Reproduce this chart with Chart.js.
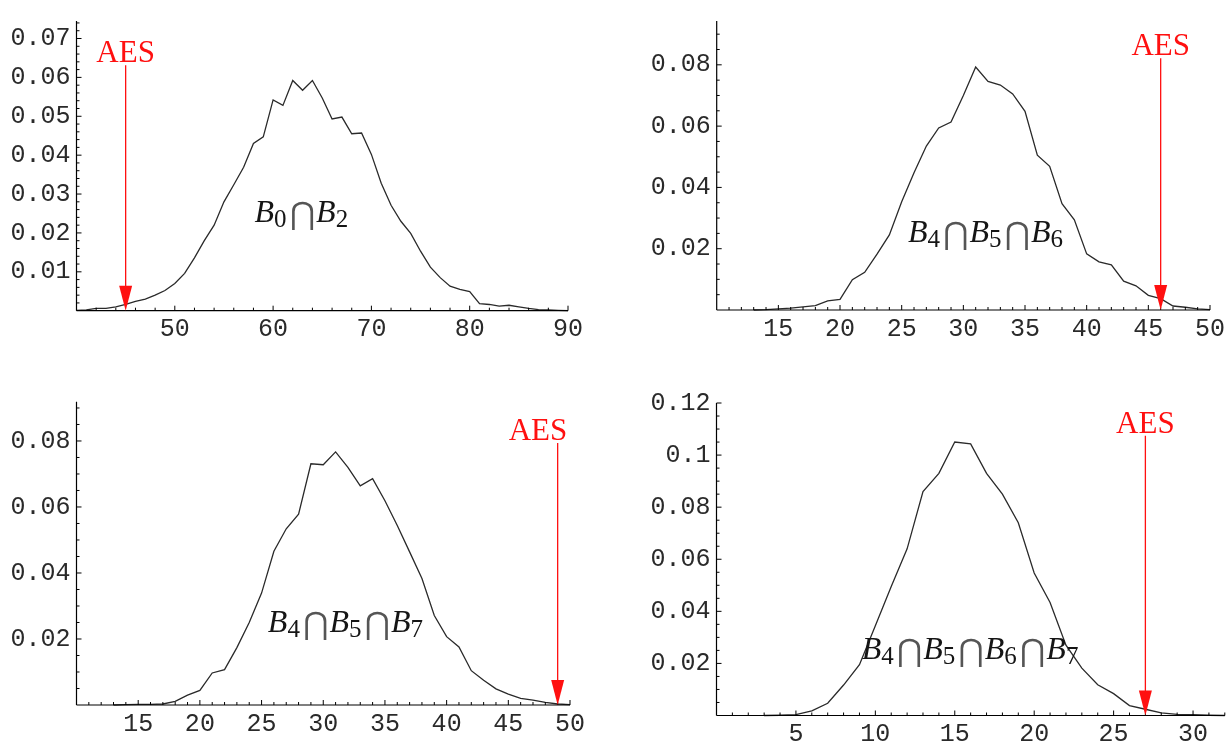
<!DOCTYPE html>
<html><head><meta charset="utf-8">
<script src="https://cdn.jsdelivr.net/npm/chart.js@4.4.1/dist/chart.umd.min.js"></script>
<style>
html,body{margin:0;padding:0;background:#fff;}
body{width:1230px;height:742px;position:relative;overflow:hidden;}
.panel{position:absolute;}
canvas{display:block;}
</style></head><body>
<div class="panel" style="left:0;top:0"><canvas id="c1" width="615" height="371"></canvas></div>
<div class="panel" style="left:615px;top:0"><canvas id="c2" width="615" height="371"></canvas></div>
<div class="panel" style="left:0;top:371px"><canvas id="c3" width="615" height="371"></canvas></div>
<div class="panel" style="left:615px;top:371px"><canvas id="c4" width="615" height="371"></canvas></div>
<script>
// ---------- DATA ----------
const p1X = [40,41,42,43,44,45,46,47,48,49,50,51,52,53,54,55,56,57,58,59,60,61,62,63,64,65,66,67,68,69,70,71,72,73,74,75,76,77,78,79,80,81,82,83,84,85,86,87,88,89,90];
const p1Y = [0.0001,0.0002,0.0006,0.0006,0.001,0.0016,0.0024,0.003,0.004,0.0052,0.007,0.0096,0.0136,0.018,0.022,0.028,0.0324,0.0369,0.043,0.0447,0.0542,0.0528,0.0592,0.0567,0.0592,0.0547,0.0493,0.0498,0.0455,0.0457,0.0402,0.0328,0.0271,0.023,0.0199,0.0153,0.0112,0.0085,0.0063,0.0055,0.0049,0.0018,0.0016,0.0012,0.0014,0.001,0.0006,0.0003,0.0002,0.0001,0.0];
const p1XTicks = [50,60,70,80,90];
const p1YTicks = [0.01,0.02,0.03,0.04,0.05,0.06,0.07];
const p1Sets = ['0','2'];
const p1AES = 45;

const p2X = [13,14,15,16,17,18,19,20,21,22,23,24,25,26,27,28,29,30,31,32,33,34,35,36,37,38,39,40,41,42,43,44,45,46,47,48,49,50];
const p2Y = [0.0,0.0001,0.0004,0.0006,0.001,0.0014,0.003,0.0035,0.0099,0.0123,0.0182,0.0245,0.0353,0.0448,0.0535,0.0594,0.0613,0.070,0.0793,0.0746,0.0734,0.0705,0.0648,0.0505,0.0469,0.0347,0.0294,0.0183,0.0157,0.0147,0.0094,0.0079,0.0048,0.0037,0.0013,0.0009,0.0004,0.0001];
const p2XTicks = [15,20,25,30,35,40,45,50];
const p2YTicks = [0.02,0.04,0.06,0.08];
const p2Sets = ['4','5','6'];
const p2AES = 46;

const p3X = [13,14,15,16,17,18,19,20,21,22,23,24,25,26,27,28,29,30,31,32,33,34,35,36,37,38,39,40,41,42,43,44,45,46,47,48,49,50];
const p3Y = [0.0,0.0001,0.0002,0.0002,0.0003,0.0011,0.003,0.0044,0.0097,0.0107,0.0174,0.025,0.0339,0.0466,0.0534,0.0578,0.0731,0.0728,0.0767,0.072,0.0664,0.0686,0.0619,0.0544,0.0464,0.0383,0.0271,0.0207,0.0176,0.0104,0.0075,0.0049,0.0033,0.002,0.0015,0.0008,0.0003,0.0001];
const p3XTicks = [15,20,25,30,35,40,45,50];
const p3YTicks = [0.02,0.04,0.06,0.08];
const p3Sets = ['4','5','7'];
const p3AES = 49;

const p4X = [3,4,5,6,7,8,9,10,11,12,13,14,15,16,17,18,19,20,21,22,23,24,25,26,27,28,29,30,31,32];
const p4Y = [0.0,0.0001,0.0003,0.0018,0.0047,0.0117,0.0195,0.0345,0.0495,0.064,0.086,0.093,0.105,0.1043,0.093,0.085,0.074,0.0547,0.0434,0.027,0.0182,0.0118,0.0084,0.0038,0.0024,0.001,0.0004,0.0003,0.0001,0.0];
const p4XTicks = [5,10,15,20,25,30];
const p4YTicks = [0.02,0.04,0.06,0.08,0.1,0.12];
const p4Sets = ['4','5','6','7'];
const p4AES = 27;

// ---------- LAYOUT / STYLE ----------
const W = 615, H = 371;
const panels = [
  {id:'c1', xs:p1X, ys:p1Y, xMin:40, xMax:90, yMax:0.0745, xTicks:p1XTicks, yTicks:p1YTicks, xMinor:2, yMinor:0.002,
   area:{left:76.5, right:568, top:7.5, bottom:310.7}, sets:p1Sets, labX:63.0, labY:0.0228,
   aes:p1AES, aesTextX:45, aesTextY:0.0639},
  {id:'c2', xs:p2X, ys:p2Y, xMin:10, xMax:50, yMax:0.0943, xTicks:p2XTicks, yTicks:p2YTicks, xMinor:1, yMinor:0.005,
   area:{left:101.7, right:595, top:7.3, bottom:310}, sets:p2Sets, labX:31.9, labY:0.0223,
   aes:p2AES, aesTextX:46, aesTextY:0.0831},
  {id:'c3', xs:p3X, ys:p3Y, xMin:10, xMax:50, yMax:0.0919, xTicks:p3XTicks, yTicks:p3YTicks, xMinor:1, yMinor:0.005,
   area:{left:76.5, right:570, top:30.7, bottom:334}, sets:p3Sets, labX:31.9, labY:0.0222,
   aes:p3AES, aesTextX:47.4, aesTextY:0.0803},
  {id:'c4', xs:p4X, ys:p4Y, xMin:0, xMax:32, yMax:0.12, xTicks:p4XTicks, yTicks:p4YTicks, xMinor:1, yMinor:0.005,
   area:{left:101.5, right:609.8, top:32, bottom:344.5}, sets:p4Sets, labX:16.04, labY:0.0216,
   aes:p4AES, aesTextX:27, aesTextY:0.1086}
];

const tickFont = {family:'"Liberation Mono", "Courier New", monospace', size:25};
const fmt = v => String(parseFloat(Number(v).toFixed(4)));

function drawFormula(ctx, cx, by, subs) {
  const bFont = 'italic 32px "Liberation Serif"';
  const sFont = '25px "Liberation Serif"';
  const cFont = '31px "DejaVu Sans"';
  const items = [];
  subs.forEach((s, i) => {
    if (i) items.push({t:'\u22C2', font:cFont, slot:27, dy:2, center:true, color:'#555'});
    items.push({t:'B', font:bFont, dy:0, extra:0});
    items.push({t:s, font:sFont, dy:5, extra:2.5});
  });
  let total = 0;
  items.forEach(it => { ctx.font = it.font; it.w = it.slot || (ctx.measureText(it.t).width + (it.extra||0)); total += it.w; });
  let x = cx - total / 2;
  ctx.textBaseline = 'alphabetic';
  items.forEach(it => {
    ctx.font = it.font;
    ctx.fillStyle = it.color || '#151515';
    if (it.center) { ctx.textAlign = 'center'; ctx.fillText(it.t, x + it.w/2, by + it.dy); }
    else { ctx.textAlign = 'left'; ctx.fillText(it.t, x, by + it.dy); }
    x += it.w;
  });
}

function makePlugin(p) {
  return {
    id: 'mma_' + p.id,
    afterDraw(chart) {
      const ctx = chart.ctx, xs = chart.scales.x, ys = chart.scales.y;
      const x0 = xs.getPixelForValue(p.xMin), x1 = xs.getPixelForValue(p.xMax);
      const y0 = ys.getPixelForValue(0), yT = ys.getPixelForValue(p.yMax);
      ctx.save();
      ctx.strokeStyle = '#000';
      ctx.lineWidth = 1.2;
      ctx.beginPath();
      ctx.moveTo(x0, y0); ctx.lineTo(x1, y0);
      ctx.moveTo(x0, y0); ctx.lineTo(x0, yT);
      ctx.stroke();
      ctx.lineWidth = 1;
      const isMajor = (v, arr) => arr.some(a => Math.abs(a - v) < 1e-9);
      ctx.beginPath();
      for (let k = Math.ceil(p.xMin / p.xMinor); k * p.xMinor <= p.xMax + 1e-9; k++) {
        const v = k * p.xMinor;
        if (Math.abs(v - p.xMin) < 1e-9) continue;
        const L = isMajor(v, p.xTicks) ? 5 : 3;
        const px = xs.getPixelForValue(v);
        ctx.moveTo(px, y0); ctx.lineTo(px, y0 - L);
      }
      for (let k = 1; k * p.yMinor <= p.yMax + 1e-9; k++) {
        const v = k * p.yMinor;
        const L = isMajor(v, p.yTicks) ? 5 : 3;
        const py = ys.getPixelForValue(v);
        ctx.moveTo(x0, py); ctx.lineTo(x0 + L, py);
      }
      ctx.stroke();

      drawFormula(ctx, xs.getPixelForValue(p.labX), ys.getPixelForValue(p.labY), p.sets);

      const red = '#ff1010';
      const ax = xs.getPixelForValue(p.aes);
      const ty = ys.getPixelForValue(p.aesTextY);
      ctx.fillStyle = red;
      ctx.font = '31px "Liberation Serif"';
      ctx.textAlign = 'center';
      ctx.textBaseline = 'alphabetic';
      ctx.fillText('AES', xs.getPixelForValue(p.aesTextX), ty);
      const headH = 25, headW = 13;
      ctx.strokeStyle = red;
      ctx.lineWidth = 1.3;
      ctx.beginPath();
      ctx.moveTo(ax, ty + 3); ctx.lineTo(ax, y0 - headH + 2);
      ctx.stroke();
      ctx.beginPath();
      ctx.moveTo(ax - headW/2, y0 - headH);
      ctx.lineTo(ax + headW/2, y0 - headH);
      ctx.lineTo(ax, y0);
      ctx.closePath();
      ctx.fill();
      ctx.restore();
    }
  };
}

panels.forEach(p => {
  const a = p.area;
  new Chart(document.getElementById(p.id), {
    type: 'line',
    data: { datasets: [{
      data: p.xs.map((x, i) => ({x: x, y: p.ys[i]})),
      borderColor: '#2a2a2a', borderWidth: 1.3, pointRadius: 0, tension: 0, fill: false, clip: 6
    }]},
    options: {
      responsive: false, animation: false, events: [],
      layout: { padding: { top: a.top, right: W - a.right, left: 0, bottom: 0 } },
      plugins: { legend: {display:false}, tooltip: {enabled:false} },
      scales: {
        x: {
          type: 'linear', min: p.xMin, max: p.xMax,
          grid: {display:false, drawTicks:false}, border: {display:false},
          afterBuildTicks: s => { s.ticks = p.xTicks.map(v => ({value:v})); },
          afterFit: s => { s.height = H - a.bottom; },
          ticks: { font: tickFont, color:'#2a2a2a', padding:4, maxRotation:0, autoSkip:false, callback: v => fmt(v) }
        },
        y: {
          type: 'linear', min: 0, max: p.yMax,
          grid: {display:false, drawTicks:false}, border: {display:false},
          afterBuildTicks: s => { s.ticks = p.yTicks.map(v => ({value:v})); },
          afterFit: s => { s.width = a.left; },
          ticks: { font: tickFont, color:'#2a2a2a', padding:6, autoSkip:false, callback: v => fmt(v) }
        }
      }
    },
    plugins: [makePlugin(p)]
  });
});
</script>
</body></html>
